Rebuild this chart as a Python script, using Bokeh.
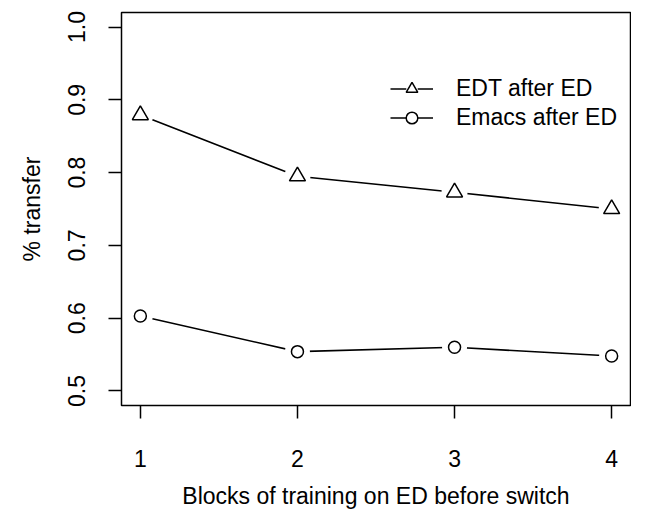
from bokeh.plotting import figure
from bokeh.models import FixedTicker, Legend, LegendItem, Range1d
from bokeh.embed import file_html
from bokeh.resources import INLINE

# ---- data ----
blocks = [1, 2, 3, 4]
edt_after_ed = [0.879, 0.795, 0.773, 0.750]
emacs_after_ed = [0.603, 0.554, 0.560, 0.548]
x_ticks = [1, 2, 3, 4]
y_ticks = [0.5, 0.6, 0.7, 0.8, 0.9, 1.0]
y_tick_labels = ["0.5", "0.6", "0.7", "0.8", "0.9", "1.0"]
series_names = ["EDT after ED", "Emacs after ED"]

FONT = "Liberation Sans"

p = figure(width=631, height=511, output_backend="svg", toolbar_location=None,
           x_range=Range1d(0.88, 4.12), y_range=Range1d(0.48, 1.02),
           min_border_left=121, min_border_right=1, min_border_top=12,
           min_border_bottom=97)
p.background_fill_color = "white"
p.border_fill_color = "white"
p.outline_line_color = "black"
p.outline_line_width = 1.5
p.xgrid.visible = False
p.ygrid.visible = False

for ax in (p.xaxis[0], p.yaxis[0]):
    ax.axis_line_color = None
    ax.major_tick_line_color = "black"
    ax.major_tick_line_width = 1.5
    ax.major_tick_out = 13
    ax.major_tick_in = 0
    ax.minor_tick_line_color = None
    ax.major_label_text_font = FONT
    ax.major_label_text_color = "black"
    ax.axis_label_text_font = FONT
    ax.axis_label_text_font_style = "normal"
    ax.axis_label_text_color = "black"

p.xaxis.ticker = FixedTicker(ticks=x_ticks)
p.xaxis.major_label_text_font_size = "23px"
p.xaxis.major_label_standoff = 31
p.xaxis.axis_label = "Blocks of training on ED before switch"
p.xaxis.axis_label_text_font_size = "23px"
p.xaxis.axis_label_standoff = 13

p.yaxis.ticker = FixedTicker(ticks=y_ticks)
p.yaxis.major_label_overrides = {t: s for t, s in zip(y_ticks, y_tick_labels)}
p.yaxis.major_label_orientation = "vertical"
p.yaxis.major_label_text_font_size = "23px"
p.yaxis.major_label_standoff = 23
p.yaxis.axis_label = "% transfer"
p.yaxis.axis_label_text_font_size = "23px"
p.yaxis.axis_label_standoff = 21

# EDT after ED
l1 = p.line(blocks, edt_after_ed, line_color="black", line_width=1.6)
m1 = p.scatter(blocks, edt_after_ed, marker="circle", size=26,
               fill_color="white", line_color=None)
s1 = p.scatter(blocks, edt_after_ed, marker="triangle", size=16,
               fill_color=None, line_color="black", line_width=1.5)

# Emacs after ED
l2 = p.line(blocks, emacs_after_ed, line_color="black", line_width=1.6)
m2 = p.scatter(blocks, emacs_after_ed, marker="circle", size=25,
               fill_color="white", line_color=None)
s2 = p.scatter(blocks, emacs_after_ed, marker="circle", size=12,
               fill_color=None, line_color="black", line_width=1.5)

legend = Legend(items=[LegendItem(label=series_names[0], renderers=[l1, m1, s1]),
                       LegendItem(label=series_names[1], renderers=[l2, m2, s2])],
                location=(269, 273), border_line_color=None,
                background_fill_alpha=0, label_text_font=FONT,
                label_text_font_size="23px", label_text_color="black",
                glyph_width=43, glyph_height=29, label_height=29,
                label_standoff=23, spacing=0, padding=0, margin=0)
p.add_layout(legend, "center")

open("out.html", "w").write(file_html(p, INLINE))
